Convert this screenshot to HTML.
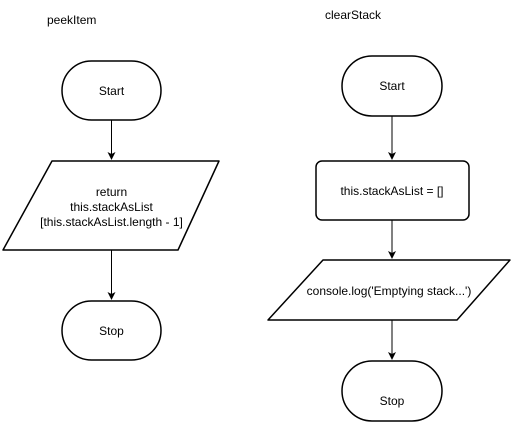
<!DOCTYPE html>
<html><head><meta charset="utf-8"><style>
html,body{margin:0;padding:0;background:#fff;}
svg{display:block;}
text{font-family:"Liberation Sans",Arial,sans-serif;font-size:12px;fill:#000;}
</style></head><body>
<svg width="517" height="432" viewBox="0 0 517 432" xmlns="http://www.w3.org/2000/svg">
<defs><marker id="a" markerWidth="8" markerHeight="8" refX="7" refY="4" orient="auto" markerUnits="userSpaceOnUse"><path d="M0,0 L8,4 L0,8 L2,4 Z" fill="#000"/></marker></defs>
<g fill="none" stroke="#000" stroke-width="1.5">
<rect x="62" y="61" width="99" height="59" rx="29.5"/>
<path d="M52,161 L219,161 L178,250 L3,250 Z" stroke-linejoin="round"/>
<rect x="62" y="301" width="99" height="59" rx="29.5"/>
<line x1="111.5" y1="120" x2="111.5" y2="159" stroke-width="1" marker-end="url(#a)"/>
<line x1="111.5" y1="250" x2="111.5" y2="299" stroke-width="1" marker-end="url(#a)"/>
<rect x="342" y="56" width="100" height="60" rx="30"/>
<rect x="316" y="161" width="153" height="59" rx="6"/>
<path d="M323,260 L510,260 L457,320 L268,320 Z" stroke-linejoin="round"/>
<rect x="342" y="361" width="100" height="60" rx="30"/>
<line x1="392" y1="116" x2="392" y2="159" stroke-width="1" marker-end="url(#a)"/>
<line x1="392" y1="220" x2="392" y2="258" stroke-width="1" marker-end="url(#a)"/>
<line x1="392" y1="320" x2="392" y2="359" stroke-width="1" marker-end="url(#a)"/>
</g>
<text x="47" y="24">peekItem</text>
<text x="111.5" y="95" text-anchor="middle">Start</text>
<text x="111.5" y="196" text-anchor="middle">return</text>
<text x="111.5" y="211" text-anchor="middle">this.stackAsList</text>
<text x="111.5" y="226" text-anchor="middle">[this.stackAsList.length - 1]</text>
<text x="111.5" y="335" text-anchor="middle">Stop</text>
<text x="325" y="19">clearStack</text>
<text x="392" y="90" text-anchor="middle">Start</text>
<text x="392" y="195" text-anchor="middle">this.stackAsList = []</text>
<text x="389" y="295" text-anchor="middle">console.log('Emptying stack...')</text>
<text x="392" y="405" text-anchor="middle">Stop</text>
</svg>
</body></html>
